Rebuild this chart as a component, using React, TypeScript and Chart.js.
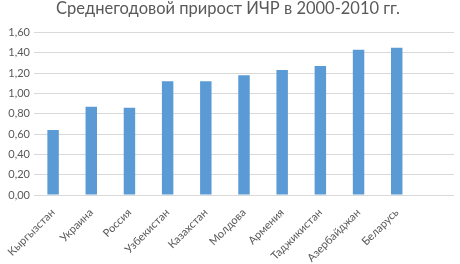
import React, { useEffect, useRef } from 'react';
import { Chart, registerables } from 'chart.js';
Chart.register(...registerables);

const titleText = 'Среднегодовой прирост ИЧР в 2000-2010 гг.';
const categories = ['Кыргызстан', 'Украина', 'Россия', 'Узбекистан', 'Казахстан', 'Молдова', 'Армения', 'Таджикистан', 'Азербайджан', 'Беларусь', ''];
const values = [0.64, 0.87, 0.86, 1.12, 1.12, 1.18, 1.23, 1.27, 1.43, 1.45, null];
const yMin = 0;
const yMax = 1.6;
const yStep = 0.2;

export default function App() {
  const ref = useRef<HTMLCanvasElement>(null);
  useEffect(() => {
    document.body.style.margin = '0';
    const ctx = ref.current!;
    const chart = new Chart(ctx, {
      type: 'bar',
      data: {
        labels: categories,
        datasets: [{ data: values as any, backgroundColor: '#5b9bd5', barPercentage: 0.5, categoryPercentage: 0.6 }],
      },
      options: {
        animation: false,
        responsive: false,
        layout: { padding: { left: 2, right: 6, top: 0, bottom: 0 } },
        plugins: {
          legend: { display: false },
          tooltip: { enabled: false },
          title: {
            display: true,
            text: titleText,
            color: '#595959',
            font: { family: 'Lato', size: 16.5, weight: 'normal', lineHeight: 1.0 },
            padding: { top: 0, bottom: 16 },
          },
        },
        scales: {
          x: {
            grid: { display: false },
            border: { display: false },
            ticks: {
              color: '#595959',
              font: { family: 'Lato', size: 11 },
              minRotation: 45,
              maxRotation: 45,
              autoSkip: false,
            },
            afterFit: (s: any) => { s.height = 69; },
          },
          y: {
            min: yMin,
            max: yMax,
            grid: { color: '#d9d9d9', drawTicks: false },
            border: { display: false },
            ticks: {
              stepSize: yStep,
              color: '#595959',
              font: { family: 'Lato', size: 11 },
              padding: 4,
              callback: (v: any) => Number(v).toFixed(2).replace('.', ','),
            },
            afterFit: (s: any) => { s.width = 32; },
          },
        },
      },
    });
    return () => chart.destroy();
  }, []);
  return <canvas ref={ref} width={460} height={264} style={{ display: 'block' }} />;
}
